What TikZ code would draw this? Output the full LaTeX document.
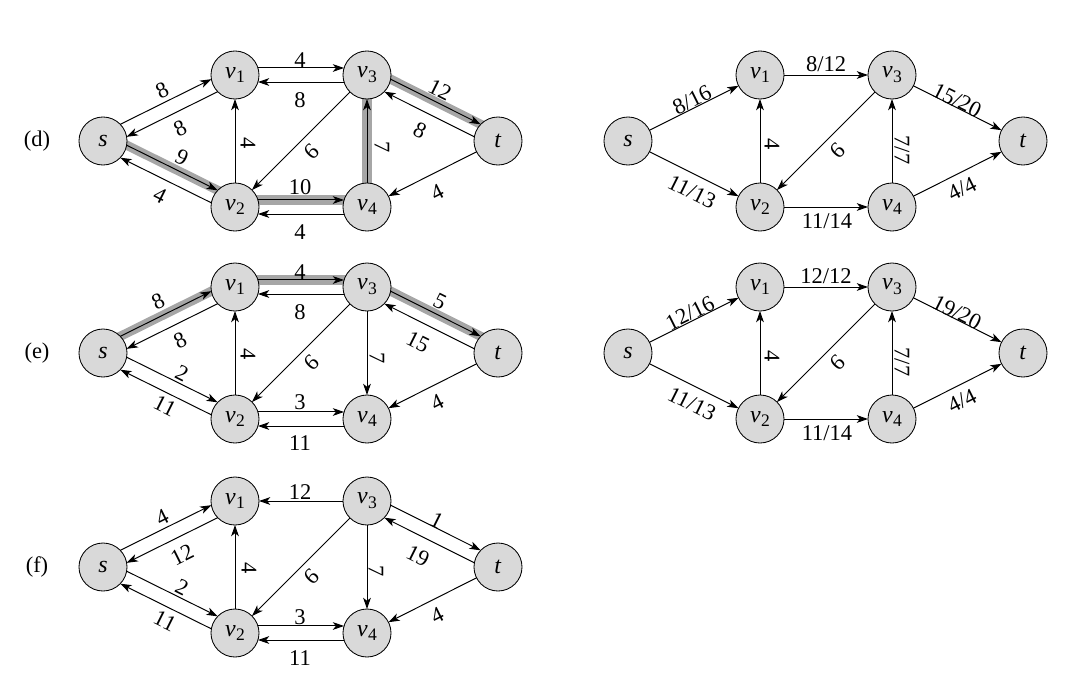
\documentclass[tikz,border=0pt]{standalone}
\usepackage{fontspec}
\setmainfont{Liberation Serif}
\usetikzlibrary{arrows.meta}
\pgfdeclarelayer{background}
\pgfsetlayers{background,main}
\newcommand\vsub[1]{\textit{v}\kern0.2pt\raisebox{-0.45ex}{\fontsize{12.5}{13}\selectfont #1}}
\tikzset{
  x=0.025cm, y=-0.025cm,
  vert/.style={circle, draw=black, fill=black!15, line width=0.6pt, minimum size=1.2cm, inner sep=0pt, outer sep=0pt, font=\fontsize{17}{20}\selectfont},
  edge/.style={line width=0.7pt, -{Stealth[length=8pt,width=5.5pt,inset=2.2pt]}},
  band/.style={line width=6.5pt, draw=black!35, shorten <=-4pt, shorten >=-4pt},
  lab/.style={inner sep=0pt},
  rowlab/.style={inner sep=0pt}
}
\begin{document}
\begin{tikzpicture}[font=\fontsize{16}{19}\selectfont]
\useasboundingbox (0,0) rectangle (1088,698);

% ================= (d) residual =================
\node[rowlab] (dlab) at (37,141) {(d)};
\node[vert] (ds) at (103,141) {\textit{s}};
\node[vert] (dv1) at (235,75) {\vsub1};
\node[vert] (dv3) at (367,75) {\vsub3};
\node[vert] (dt) at (498,141) {\textit{t}};
\node[vert] (dv2) at (235,207) {\vsub2};
\node[vert] (dv4) at (367,207) {\vsub4};
\begin{pgfonlayer}{background}
\draw[band] (ds.-10) -- (dv2.136);
\draw[band] (dv2.17) -- (dv4.163);
\draw[band] (dv4) -- (dv3);
\draw[band] (dv3.-10) -- (dt.136);
\end{pgfonlayer}
\draw[edge] (ds.44) -- (dv1.190);
\draw[edge] (dv1.224) -- (ds.10);
\draw[edge] (ds.-10) -- (dv2.136);
\draw[edge] (dv2.170) -- (ds.-44);
\draw[edge] (dv1.17) -- (dv3.163);
\draw[edge] (dv3.197) -- (dv1.-17);
\draw[edge] (dv2.17) -- (dv4.163);
\draw[edge] (dv4.197) -- (dv2.-17);
\draw[edge] (dv3.-10) -- (dt.136);
\draw[edge] (dt.170) -- (dv3.-44);
\draw[edge] (dv2) -- (dv1);
\draw[edge] (dv3) -- (dv2);
\draw[edge] (dv4) -- (dv3);
\draw[edge] (dt) -- (dv4);
\node[lab, rotate=26.57] (dl1) at (162,90) {8};
\node[lab, rotate=26.57] (dl2) at (180,128) {8};
\node[lab, rotate=-26.57] (dl3) at (182,157) {9};
\node[lab, rotate=-26.57] (dl4) at (160,195) {4};
\node[lab] (dl5) at (300,60) {4};
\node[lab] (dl6) at (300,100) {8};
\node[lab, rotate=-90] (dl7) at (248,143) {4};
\node[lab, rotate=-135] (dl8) at (312,152) {9};
\node[lab, rotate=-90] (dl9) at (382,147) {7};
\node[lab, rotate=-26.57] (dl10) at (440,90) {12};
\node[lab, rotate=-26.57] (dl11) at (420,130) {8};
\node[lab] (dl12) at (300,187) {10};
\node[lab] (dl13) at (300,232) {4};
\node[lab, rotate=26.57] (dl14) at (437,192) {4};

% ================= (d) flow =================
\node[vert] (Ds) at (628,141) {\textit{s}};
\node[vert] (Dv1) at (760,75) {\vsub1};
\node[vert] (Dv3) at (892,75) {\vsub3};
\node[vert] (Dt) at (1023,141) {\textit{t}};
\node[vert] (Dv2) at (760,207) {\vsub2};
\node[vert] (Dv4) at (892,207) {\vsub4};
\draw[edge] (Ds) -- (Dv1);
\draw[edge] (Ds) -- (Dv2);
\draw[edge] (Dv1) -- (Dv3);
\draw[edge] (Dv2) -- (Dv1);
\draw[edge] (Dv3) -- (Dv2);
\draw[edge] (Dv2) -- (Dv4);
\draw[edge] (Dv4) -- (Dv3);
\draw[edge] (Dv3) -- (Dt);
\draw[edge] (Dv4) -- (Dt);
\node[lab, rotate=26.57] (Dl1) at (692,100) {8/16};
\node[lab, rotate=-26.57] (Dl2) at (692,192) {11/13};
\node[lab] (Dl3) at (826,64) {8/12};
\node[lab, rotate=-90] (Dl4) at (772,144) {4};
\node[lab, rotate=-135] (Dl5) at (838,151) {9};
\node[lab] (Dl6) at (827,221) {11/14};
\node[lab, rotate=-90] (Dl7) at (902,150) {7/7};
\node[lab, rotate=-26.57] (Dl8) at (957,100) {15/20};
\node[lab, rotate=26.57] (Dl9) at (962,189) {4/4};

% ================= (e) residual =================
\begin{scope}[shift={(0,212)}]
\node[rowlab] (elab) at (37,141) {(e)};
\node[vert] (es) at (103,141) {\textit{s}};
\node[vert] (ev1) at (235,75) {\vsub1};
\node[vert] (ev3) at (367,75) {\vsub3};
\node[vert] (et) at (498,141) {\textit{t}};
\node[vert] (ev2) at (235,207) {\vsub2};
\node[vert] (ev4) at (367,207) {\vsub4};
\begin{pgfonlayer}{background}
\draw[band] (es.44) -- (ev1.190);
\draw[band] (ev1.17) -- (ev3.163);
\draw[band] (ev3.-10) -- (et.136);
\end{pgfonlayer}
\draw[edge] (es.44) -- (ev1.190);
\draw[edge] (ev1.224) -- (es.10);
\draw[edge] (es.-10) -- (ev2.136);
\draw[edge] (ev2.170) -- (es.-44);
\draw[edge] (ev1.17) -- (ev3.163);
\draw[edge] (ev3.197) -- (ev1.-17);
\draw[edge] (ev2.17) -- (ev4.163);
\draw[edge] (ev4.197) -- (ev2.-17);
\draw[edge] (ev3.-10) -- (et.136);
\draw[edge] (et.170) -- (ev3.-44);
\draw[edge] (ev2) -- (ev1);
\draw[edge] (ev3) -- (ev2);
\draw[edge] (ev3) -- (ev4);
\draw[edge] (et) -- (ev4);
\node[lab, rotate=26.57] (el1) at (158,89) {8};
\node[lab, rotate=26.57] (el2) at (180,128) {8};
\node[lab, rotate=-26.57] (el3) at (182,161) {2};
\node[lab, rotate=-26.57] (el4) at (165,194) {11};
\node[lab] (el5) at (300,60) {4};
\node[lab] (el6) at (300,100) {8};
\node[lab, rotate=-90] (el7) at (248,142) {4};
\node[lab, rotate=-135] (el8) at (312,151) {9};
\node[lab, rotate=-90] (el9) at (377,146) {7};
\node[lab, rotate=-26.57] (el10) at (440,90) {5};
\node[lab, rotate=-26.57] (el11) at (418,130) {15};
\node[lab] (el12) at (300,190) {3};
\node[lab] (el13) at (300,231) {11};
\node[lab, rotate=26.57] (el14) at (437,190) {4};

% ================= (e) flow =================
\node[vert] (Es) at (628,141) {\textit{s}};
\node[vert] (Ev1) at (760,75) {\vsub1};
\node[vert] (Ev3) at (892,75) {\vsub3};
\node[vert] (Et) at (1023,141) {\textit{t}};
\node[vert] (Ev2) at (760,207) {\vsub2};
\node[vert] (Ev4) at (892,207) {\vsub4};
\draw[edge] (Es) -- (Ev1);
\draw[edge] (Es) -- (Ev2);
\draw[edge] (Ev1) -- (Ev3);
\draw[edge] (Ev2) -- (Ev1);
\draw[edge] (Ev3) -- (Ev2);
\draw[edge] (Ev2) -- (Ev4);
\draw[edge] (Ev4) -- (Ev3);
\draw[edge] (Ev3) -- (Et);
\draw[edge] (Ev4) -- (Et);
\node[lab, rotate=26.57] (El1) at (690,101) {12/16};
\node[lab, rotate=-26.57] (El2) at (692,192) {11/13};
\node[lab] (El3) at (826,64) {12/12};
\node[lab, rotate=-90] (El4) at (772,144) {4};
\node[lab, rotate=-135] (El5) at (838,151) {9};
\node[lab] (El6) at (827,221) {11/14};
\node[lab, rotate=-90] (El7) at (902,150) {7/7};
\node[lab, rotate=-26.57] (El8) at (957,100) {19/20};
\node[lab, rotate=26.57] (El9) at (962,189) {4/4};
\end{scope}

% ================= (f) residual =================
\begin{scope}[shift={(0,426)}]
\node[rowlab] (flab) at (37,141) {(f)};
\node[vert] (fs) at (103,141) {\textit{s}};
\node[vert] (fv1) at (235,75) {\vsub1};
\node[vert] (fv3) at (367,75) {\vsub3};
\node[vert] (ft) at (498,141) {\textit{t}};
\node[vert] (fv2) at (235,207) {\vsub2};
\node[vert] (fv4) at (367,207) {\vsub4};
\draw[edge] (fs.44) -- (fv1.190);
\draw[edge] (fv1.224) -- (fs.10);
\draw[edge] (fs.-10) -- (fv2.136);
\draw[edge] (fv2.170) -- (fs.-44);
\draw[edge] (fv3) -- (fv1);
\draw[edge] (fv2.17) -- (fv4.163);
\draw[edge] (fv4.197) -- (fv2.-17);
\draw[edge] (fv3.-10) -- (ft.136);
\draw[edge] (ft.170) -- (fv3.-44);
\draw[edge] (fv2) -- (fv1);
\draw[edge] (fv3) -- (fv2);
\draw[edge] (fv3) -- (fv4);
\draw[edge] (ft) -- (fv4);
\node[lab, rotate=26.57] (fl1) at (162,91) {4};
\node[lab, rotate=26.57] (fl2) at (182,129) {12};
\node[lab, rotate=-26.57] (fl3) at (182,161) {2};
\node[lab, rotate=-26.57] (fl4) at (165,195) {11};
\node[lab] (fl5) at (300,66) {12};
\node[lab, rotate=-90] (fl6) at (249,142) {4};
\node[lab, rotate=-135] (fl7) at (312,151) {9};
\node[lab, rotate=-90] (fl8) at (376,145) {7};
\node[lab, rotate=-26.57] (fl9) at (437,94) {1};
\node[lab, rotate=-26.57] (fl10) at (418,130) {19};
\node[lab] (fl11) at (300,191) {3};
\node[lab] (fl12) at (300,232) {11};
\node[lab, rotate=26.57] (fl13) at (437,189) {4};
\end{scope}
\end{tikzpicture}
\end{document}
